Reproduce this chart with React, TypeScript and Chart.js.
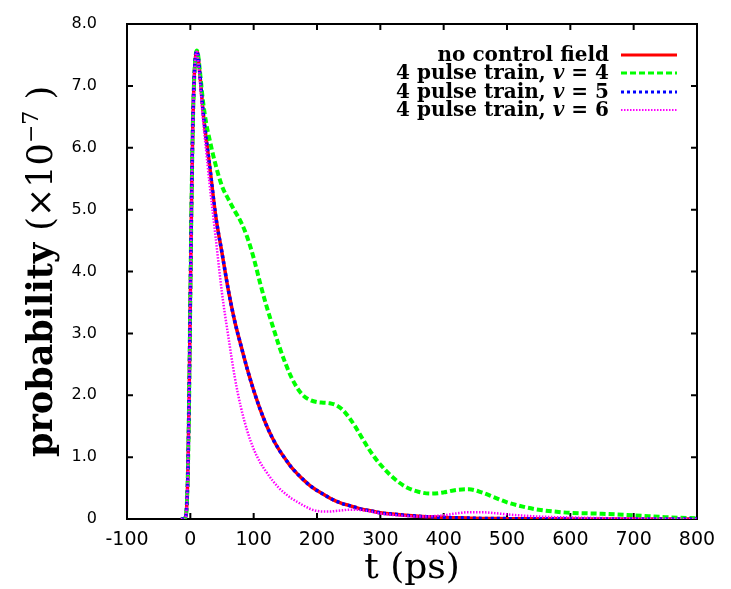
import React, { useEffect, useRef } from "react";
import { Chart, registerables } from "chart.js";

Chart.register(...registerables);

// time axis (ps)
const tPs = [
  -15, -10, -8, -6, -4, -2, 0, 2, 4, 6, 8, 10, 12,
  15, 20, 25, 30,
  40, 50, 60, 70, 80, 90, 100, 110, 120, 130, 140, 150, 160, 170, 180, 190, 200,
  210, 220, 230, 240, 250, 260, 270, 280, 290, 300,
  320, 340, 360, 380, 400, 420, 440, 460, 480, 500,
  525, 550, 575, 600,
  650, 700, 750, 800,
];

// probability (x1e-7)
const pNoControl = [
  0, 0, 0.02, 0.15, 0.7, 1.9, 3.6, 5.2, 6.4, 7.1, 7.45, 7.56, 7.5,
  7.2, 6.6, 6.15, 5.75,
  4.9, 4.3, 3.7, 3.2, 2.8, 2.42, 2.08, 1.78, 1.52, 1.3, 1.12, 0.97, 0.83, 0.72, 0.62, 0.53, 0.46,
  0.4, 0.34, 0.29, 0.25, 0.22, 0.19, 0.16, 0.14, 0.12, 0.1,
  0.08, 0.06, 0.045, 0.035, 0.025, 0.02, 0.015, 0.01, 0.008, 0.006,
  0.005, 0.004, 0.003, 0.002,
  0.001, 0.001, 0, 0,
];

const pV4 = [
  0, 0, 0.02, 0.15, 0.7, 1.9, 3.6, 5.2, 6.4, 7.1, 7.45, 7.57, 7.52,
  7.25, 6.75, 6.4, 6.15,
  5.72, 5.38, 5.17, 4.98, 4.8, 4.55, 4.22, 3.82, 3.45, 3.12, 2.8, 2.52, 2.28, 2.1, 1.98, 1.92, 1.89,
  1.88, 1.87, 1.84, 1.77, 1.65, 1.5, 1.33, 1.16, 1.01, 0.88,
  0.67, 0.52, 0.44, 0.41, 0.43, 0.47, 0.48, 0.43, 0.35, 0.27,
  0.2, 0.15, 0.12, 0.1,
  0.085, 0.06, 0.03, 0.01,
];

const pV5 = [
  0, 0, 0.02, 0.15, 0.7, 1.9, 3.6, 5.2, 6.4, 7.1, 7.45, 7.56, 7.5,
  7.2, 6.6, 6.15, 5.75,
  4.9, 4.3, 3.7, 3.2, 2.8, 2.42, 2.08, 1.78, 1.52, 1.3, 1.12, 0.97, 0.83, 0.72, 0.62, 0.53, 0.46,
  0.4, 0.34, 0.29, 0.25, 0.22, 0.19, 0.16, 0.14, 0.12, 0.1,
  0.08, 0.06, 0.045, 0.035, 0.025, 0.02, 0.015, 0.01, 0.008, 0.006,
  0.005, 0.004, 0.003, 0.002,
  0.001, 0.001, 0, 0,
];

const pV6 = [
  0, 0, 0.02, 0.15, 0.7, 1.9, 3.6, 5.2, 6.4, 7.1, 7.45, 7.55, 7.45,
  7.1, 6.45, 5.95, 5.45,
  4.55, 3.65, 2.95, 2.3, 1.8, 1.42, 1.13, 0.92, 0.76, 0.62, 0.5, 0.41, 0.33, 0.27, 0.21, 0.16, 0.13,
  0.12, 0.12, 0.13, 0.14, 0.15, 0.15, 0.145, 0.13, 0.11, 0.09,
  0.065, 0.05, 0.04, 0.045, 0.06, 0.09, 0.11, 0.11, 0.095, 0.075,
  0.055, 0.04, 0.03, 0.025,
  0.015, 0.01, 0.005, 0,
];

const seriesLabels = [
  "no control field",
  "4 pulse train, v = 4",
  "4 pulse train, v = 5",
  "4 pulse train, v = 6",
];
const legendPrefix = ["no control field", "4 pulse train, ", "4 pulse train, ", "4 pulse train, "];
const legendSuffix = ["", " = 4", " = 5", " = 6"];

const xTitle = "t (ps)";
const yTitleMain = "probability";
const yTitleUnit = "(\u00d710";
const yTitleExp = "\u22127";

const toPoints = (ys: number[]) => tPs.map((t, i) => ({ x: t, y: ys[i] }));

const framePlugin = {
  id: "gnuFrame",
  beforeDatasetsDraw(chart: any) {
    const { ctx, chartArea: a, scales } = chart;
    ctx.save();
    ctx.strokeStyle = "#000";
    ctx.lineWidth = 2;
    ctx.strokeRect(a.left, a.top, a.right - a.left, a.bottom - a.top);
    const tl = 6;
    ctx.beginPath();
    for (const tk of scales.x.ticks) {
      const px = scales.x.getPixelForValue(tk.value);
      if (px <= a.left + 1 || px >= a.right - 1) continue;
      ctx.moveTo(px, a.bottom);
      ctx.lineTo(px, a.bottom - tl);
      ctx.moveTo(px, a.top);
      ctx.lineTo(px, a.top + tl);
    }
    for (const tk of scales.y.ticks) {
      const py = scales.y.getPixelForValue(tk.value);
      if (py <= a.top + 1 || py >= a.bottom - 1) continue;
      ctx.moveTo(a.left, py);
      ctx.lineTo(a.left + tl, py);
      ctx.moveTo(a.right, py);
      ctx.lineTo(a.right - tl, py);
    }
    ctx.stroke();
    ctx.restore();
  },
  afterDraw(chart: any) {
    const { ctx, chartArea: a } = chart;
    ctx.save();
    ctx.fillStyle = "#000";
    // x title
    ctx.font = "36px 'DejaVu Serif'";
    ctx.textAlign = "center";
    ctx.textBaseline = "alphabetic";
    ctx.fillText(xTitle, (a.left + a.right) / 2, 578);

    // y title (rotated)
    const fMain = "bold 35px 'DejaVu Serif'";
    const fUnit = "35px 'DejaVu Serif'";
    const fExp = "22px 'DejaVu Serif'";
    ctx.font = fMain;
    const w1 = ctx.measureText(yTitleMain + " ").width;
    ctx.font = fUnit;
    const w2 = ctx.measureText(yTitleUnit).width;
    ctx.font = fExp;
    const w3 = ctx.measureText(yTitleExp).width;
    ctx.font = fUnit;
    const w4 = ctx.measureText(" )").width;
    const total = w1 + w2 + w3 + w4;
    const cy = (a.top + a.bottom) / 2;
    ctx.translate(52, cy + total / 2);
    ctx.rotate(-Math.PI / 2);
    ctx.textAlign = "left";
    let x = 0;
    ctx.font = fMain;
    ctx.fillText(yTitleMain + " ", x, 0);
    x += w1;
    ctx.font = fUnit;
    ctx.fillText(yTitleUnit, x, 0);
    x += w2;
    ctx.font = fExp;
    ctx.fillText(yTitleExp, x, -14);
    x += w3;
    ctx.font = fUnit;
    ctx.fillText(" )", x, 0);
    ctx.restore();

    // legend
    ctx.save();
    const rows = [55, 73, 92, 110];
    const textRight = 609;
    const ds = chart.data.datasets;
    const lf = "bold 20px 'DejaVu Serif'";
    for (let i = 0; i < 4; i++) {
      const cyr = rows[i];
      const base = cyr + 6;
      ctx.fillStyle = "#000";
      ctx.textBaseline = "alphabetic";
      ctx.textAlign = "right";
      let xr = textRight;
      if (i === 0) {
        ctx.font = lf;
        ctx.fillText(legendPrefix[0], xr, base);
      } else {
        ctx.font = lf;
        ctx.fillText(legendSuffix[i], xr, base);
        xr -= ctx.measureText(legendSuffix[i]).width;
        ctx.font = "italic " + lf;
        ctx.fillText("v", xr, base);
        xr -= ctx.measureText("v").width;
        ctx.font = lf;
        ctx.fillText(legendPrefix[i], xr, base);
      }
      const d = ds[i];
      ctx.strokeStyle = d.borderColor;
      ctx.lineWidth = i === 3 ? 2 : 3;
      ctx.setLineDash(d.borderDash || []);
      ctx.beginPath();
      ctx.moveTo(621, cyr);
      ctx.lineTo(677, cyr);
      ctx.stroke();
      ctx.setLineDash([]);
    }
    ctx.restore();
  },
};

export default function App() {
  const ref = useRef<HTMLCanvasElement>(null);
  useEffect(() => {
    if (!ref.current) return;
    const chart = new Chart(ref.current, {
      type: "line",
      data: {
        datasets: [
          {
            label: seriesLabels[0],
            data: toPoints(pNoControl),
            borderColor: "#ff0000",
            borderWidth: 3.5,
            pointRadius: 0,
            cubicInterpolationMode: "monotone",
            order: 4,
          },
          {
            label: seriesLabels[1],
            data: toPoints(pV4),
            borderColor: "#00ff00",
            borderWidth: 4,
            borderDash: [6, 3],
            pointRadius: 0,
            cubicInterpolationMode: "monotone",
            order: 3,
          },
          {
            label: seriesLabels[2],
            data: toPoints(pV5),
            borderColor: "#0000ff",
            borderWidth: 3.5,
            borderDash: [3, 3],
            pointRadius: 0,
            cubicInterpolationMode: "monotone",
            order: 2,
          },
          {
            label: seriesLabels[3],
            data: toPoints(pV6),
            borderColor: "#ff00ff",
            borderWidth: 2.5,
            borderDash: [1.5, 1.5],
            pointRadius: 0,
            cubicInterpolationMode: "monotone",
            order: 1,
          },
        ],
      },
      options: {
        responsive: false,
        animation: false,
        layout: { padding: { left: 0, right: 34, top: 24, bottom: 0 } },
        plugins: { legend: { display: false }, tooltip: { enabled: false } },
        scales: {
          x: {
            type: "linear",
            min: -100,
            max: 800,
            grid: { display: false, drawTicks: false },
            border: { display: false },
            ticks: {
              stepSize: 100,
              color: "#000",
              padding: 10,
              maxRotation: 0,
              font: { family: "'DejaVu Sans'", size: 19 },
              callback: (v: any) => String(v),
            },
            afterFit: (s: any) => {
              s.height = 70;
              s.paddingLeft = 0;
              s.paddingRight = 0;
            },
          },
          y: {
            type: "linear",
            min: 0,
            max: 8,
            grid: { display: false, drawTicks: false },
            border: { display: false },
            ticks: {
              stepSize: 1,
              color: "#000",
              padding: 30,
              font: { family: "'DejaVu Sans'", size: 16 },
              callback: (v: any) => (v === 0 ? "0" : Number(v).toFixed(1)),
            },
            afterFit: (s: any) => {
              s.width = 127;
              s.paddingTop = 0;
              s.paddingBottom = 0;
            },
          },
        },
      },
      plugins: [framePlugin],
    });
    return () => chart.destroy();
  }, []);
  return (
    <div style={{ position: "absolute", left: 0, top: 0, width: 731, height: 589 }}>
      <canvas ref={ref} width={731} height={589} style={{ display: "block" }} />
    </div>
  );
}
